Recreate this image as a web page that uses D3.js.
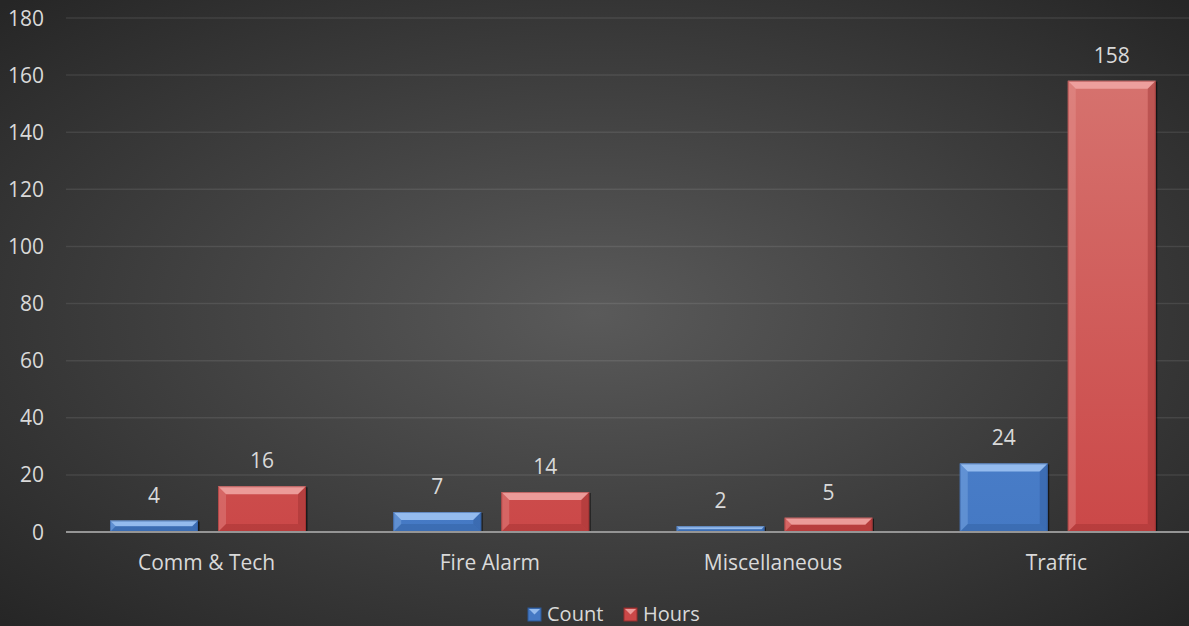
<!DOCTYPE html>
<html>
<head>
<meta charset="utf-8">
<script src="https://cdn.jsdelivr.net/npm/d3@7"></script>
<style>
  body { margin: 0; background: #2e2e2e; }
  svg { display: block; }
  text { font-family: "Open Sans", "Lato", sans-serif; fill: #d9d9d9; }
</style>
</head>
<body>
<svg id="chart" width="1189" height="626"></svg>
<script>
// Incident counts and hours per category
const categories = ["Comm & Tech", "Fire Alarm", "Miscellaneous", "Traffic"];
const seriesNames = ["Count", "Hours"];
const countValues = [4, 7, 2, 24];
const hoursValues = [16, 14, 5, 158];
const yTicks = [0, 20, 40, 60, 80, 100, 120, 140, 160, 180];

const W = 1189, H = 626;
const svg = d3.select("#chart");
const defs = svg.append("defs");

// Dark radial backdrop
const bg = defs.append("radialGradient").attr("id", "bgGrad")
  .attr("cx", "50%").attr("cy", "50%").attr("r", "70%");
bg.append("stop").attr("offset", "0%").attr("stop-color", "#5a5a5a");
bg.append("stop").attr("offset", "100%").attr("stop-color", "#262626");
svg.append("rect").attr("width", W).attr("height", H).attr("fill", "url(#bgGrad)");

const plot = { left: 66, right: 1199, top: 18, bottom: 532 };

const y = d3.scaleLinear().domain([0, 180]).range([plot.bottom, plot.top]);
const x0 = d3.scaleBand().domain(categories).range([plot.left, plot.right]).padding(0);
const x1 = d3.scaleBand().domain(seriesNames).range([44, 240]).paddingInner(20 / 108).paddingOuter(0);

const palette = {
  Count: { top: "#5a90da", bottom: "#4579c4", light: "#9cc2f2", dark: "#2c5896", stroke: "#2a5290" },
  Hours: { top: "#d6736f", bottom: "#cb4848", light: "#f0a4a2", dark: "#962c2c", stroke: "#8a2828" }
};

// Body gradients run over the full plot height
seriesNames.forEach(s => {
  const g = defs.append("linearGradient").attr("id", "grad" + s)
    .attr("gradientUnits", "userSpaceOnUse")
    .attr("x1", 0).attr("x2", 0).attr("y1", plot.top + 50).attr("y2", plot.bottom);
  g.append("stop").attr("offset", "0%").attr("stop-color", palette[s].top);
  g.append("stop").attr("offset", "100%").attr("stop-color", palette[s].bottom);
});

// Gridlines
svg.append("g").selectAll("line").data(yTicks.filter(d => d > 0)).join("line")
  .attr("x1", plot.left).attr("x2", W)
  .attr("y1", d => y(d)).attr("y2", d => y(d))
  .attr("stroke", "#ffffff").attr("stroke-opacity", 0.09).attr("stroke-width", 1.5);

// Y tick labels
svg.append("g").selectAll("text").data(yTicks).join("text")
  .attr("x", 44).attr("y", d => y(d)).attr("dy", "0.36em")
  .attr("text-anchor", "end").attr("font-size", 21)
  .text(d => d);

// Bars with bevelled faces
const rows = categories.map((c, i) => ({ cat: c, Count: countValues[i], Hours: hoursValues[i] }));
const groups = svg.append("g").selectAll("g").data(rows).join("g")
  .attr("transform", d => `translate(${x0(d.cat)},0)`);

groups.each(function(row) {
  const g = d3.select(this);
  seriesNames.forEach(s => {
    const v = row[s];
    const bx = x1(s), bw = x1.bandwidth();
    const by = y(v), bh = y(0) - y(v);
    const b = Math.min(8, bh / 2, bw / 2);
    const p = palette[s];
    const bar = g.append("g");
    // soft shadow on the right edge
    bar.append("rect").attr("x", bx + bw).attr("y", by + 1).attr("width", 1.5).attr("height", Math.max(0, bh - 1))
      .attr("fill", "#000").attr("fill-opacity", 0.55);
    bar.append("rect").attr("x", bx).attr("y", by).attr("width", bw).attr("height", bh)
      .attr("fill", "url(#grad" + s + ")");
    const x2 = bx + bw, y2 = by + bh;
    const faces = [
      { pts: [[bx, by], [x2, by], [x2 - b, by + b], [bx + b, by + b]], fill: p.light, op: 0.9 },
      { pts: [[bx, by], [bx + b, by + b], [bx + b, y2 - b], [bx, y2]], fill: p.light, op: 0.3 },
      { pts: [[x2, by], [x2, y2], [x2 - b, y2 - b], [x2 - b, by + b]], fill: p.dark, op: 0.4 },
      { pts: [[bx, y2], [bx + b, y2 - b], [x2 - b, y2 - b], [x2, y2]], fill: p.dark, op: 0.35 }
    ];
    faces.forEach(f => {
      bar.append("polygon").attr("points", f.pts.map(q => q.join(",")).join(" "))
        .attr("fill", f.fill).attr("fill-opacity", f.op);
    });
    bar.append("rect").attr("x", bx + 0.5).attr("y", by + 0.5).attr("width", bw - 1).attr("height", Math.max(0, bh - 1))
      .attr("fill", "none").attr("stroke", p.stroke).attr("stroke-opacity", 0.45).attr("stroke-width", 1);
    // value label
    g.append("text").attr("x", bx + bw / 2).attr("y", by - 18)
      .attr("text-anchor", "middle").attr("font-size", 21).text(v);
  });
});

// Zero baseline
svg.append("line").attr("x1", plot.left).attr("x2", W)
  .attr("y1", y(0)).attr("y2", y(0))
  .attr("stroke", "#959595").attr("stroke-width", 2);

// Category labels
svg.append("g").selectAll("text").data(categories).join("text")
  .attr("x", d => x0(d) + x0.bandwidth() / 2 - 1).attr("y", 570)
  .attr("text-anchor", "middle").attr("font-size", 21).text(d => d);

// Legend
const legendItems = [
  { name: "Count", x: 528 },
  { name: "Hours", x: 624 }
];
const lg = svg.append("g").selectAll("g").data(legendItems).join("g")
  .attr("transform", d => `translate(${d.x},608)`);
lg.append("rect").attr("width", 13).attr("height", 13)
  .attr("fill", d => palette[d.name].bottom).attr("stroke", d => palette[d.name].dark).attr("stroke-width", 1);
lg.append("polygon").attr("points", "1,1 12,1 6.5,6.5")
  .attr("fill", d => palette[d.name].light).attr("fill-opacity", 0.9);
lg.append("text").attr("x", 19).attr("y", 13).attr("font-size", 20).text(d => d.name);
</script>
</body>
</html>
